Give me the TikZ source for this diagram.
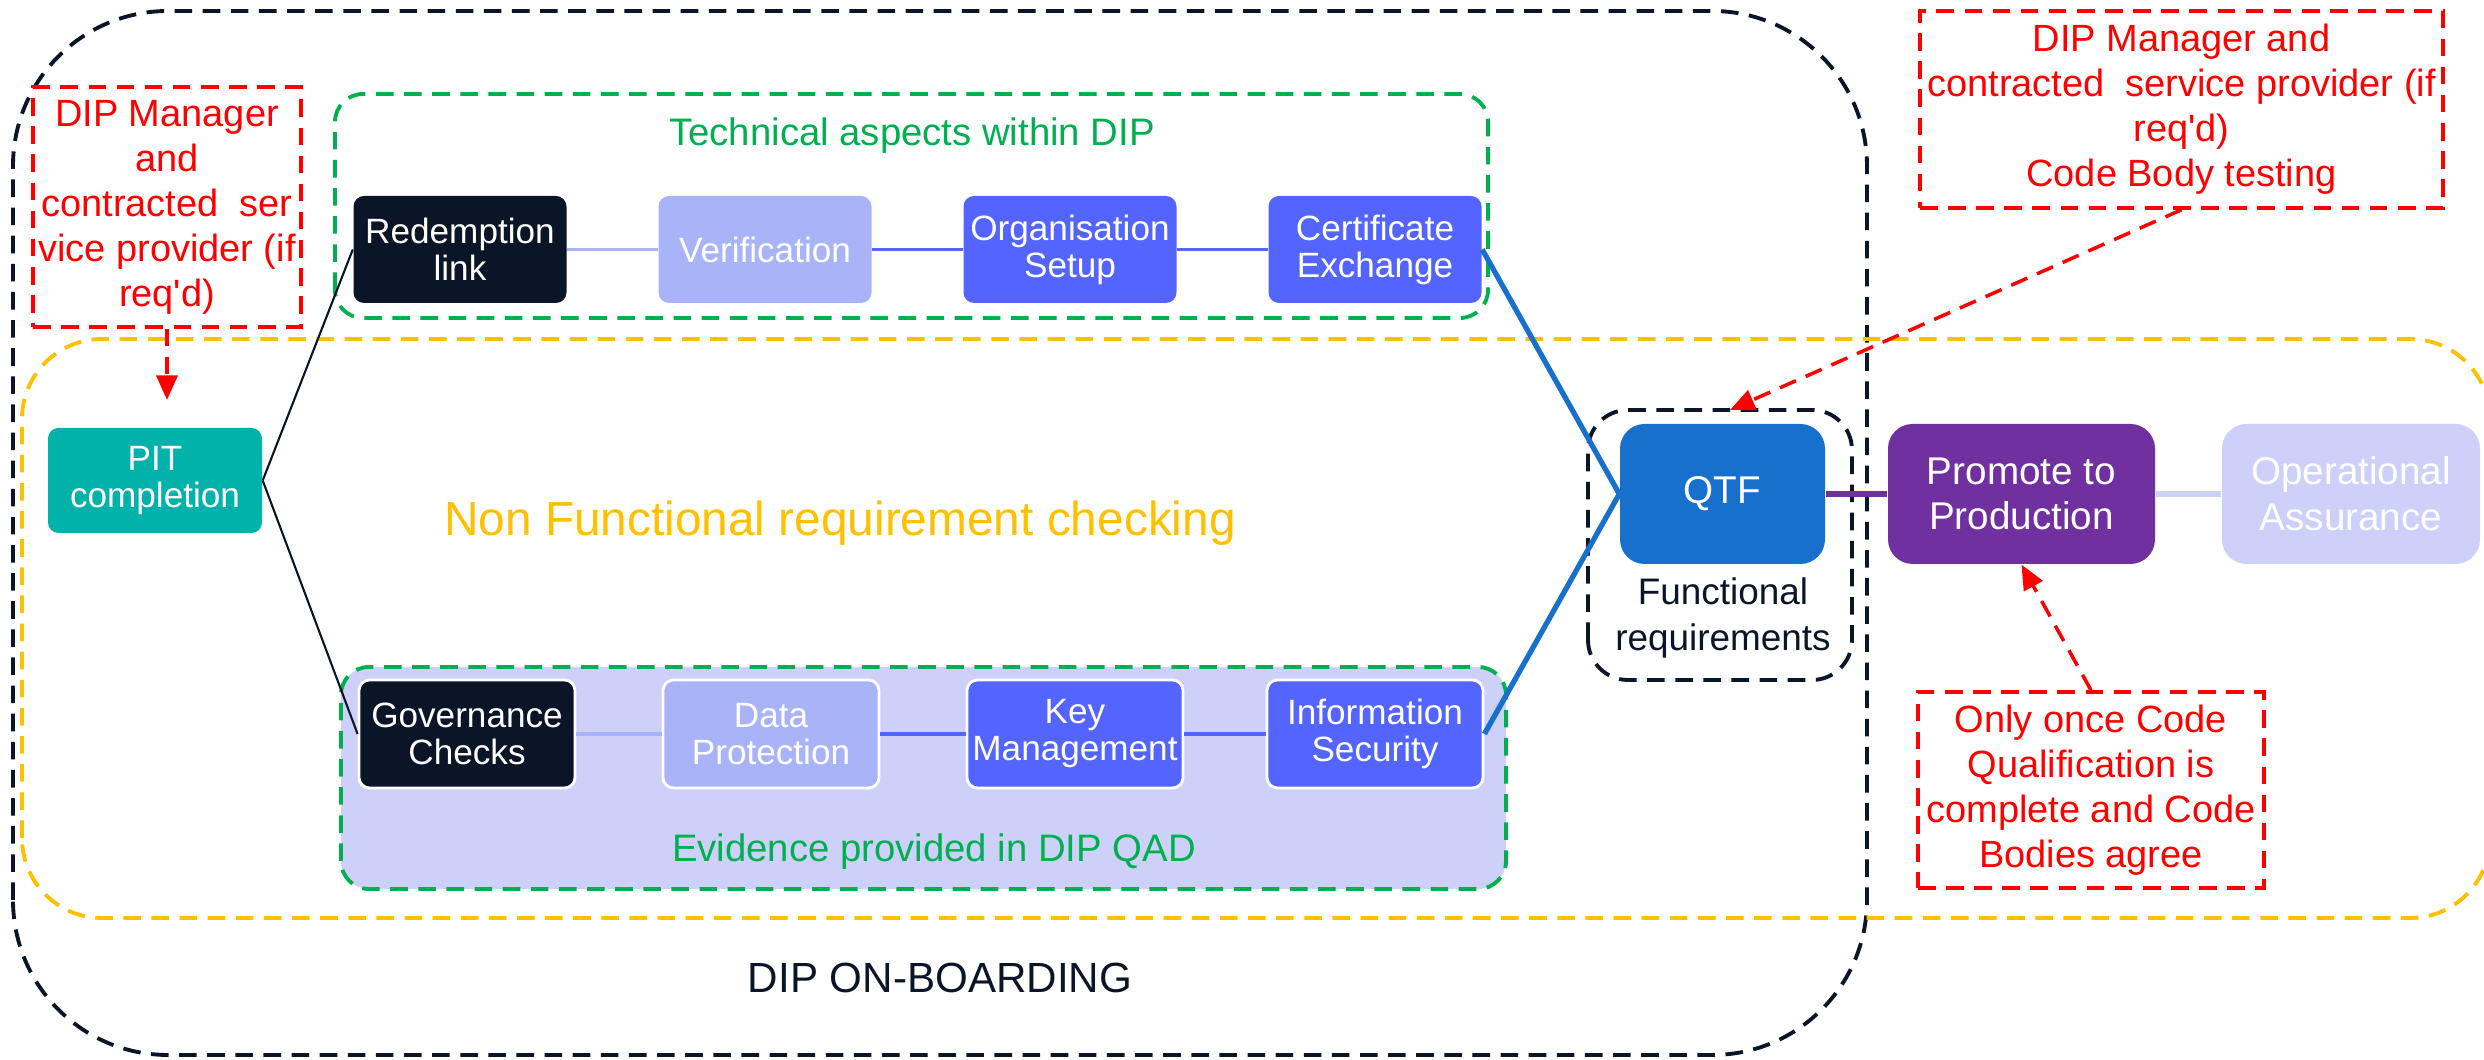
\documentclass[tikz,border=0pt]{standalone}
\usepackage{fontspec}
\setmainfont{Liberation Sans}
\usetikzlibrary{arrows.meta}

\definecolor{navy}{HTML}{0A1628}
\definecolor{lilac}{HTML}{A9B3F8}
\definecolor{royal}{HTML}{5364FF}
\definecolor{pitteal}{HTML}{00B2A9}
\definecolor{qtfblue}{HTML}{1870CD}
\definecolor{prodpurple}{HTML}{7030A0}
\definecolor{mist}{HTML}{CDD1FA}
\definecolor{leaf}{HTML}{00B050}
\definecolor{amber}{HTML}{FFC000}

\begin{document}
\begin{tikzpicture}[font=\fontsize{10}{10.5}\selectfont,
  frame/.style={line width=1.1pt, dash pattern=on 5pt off 3pt},
  stage/.style={rounded corners=3pt, minimum width=2.13cm, minimum height=1.07cm, align=center, text=white, inner sep=1pt},
  evid/.style={stage, draw=white, line width=0.8pt, minimum width=2.16cm, minimum height=1.08cm},
  bigstage/.style={rounded corners=7pt, minimum height=1.40cm, align=center, text=white, inner sep=1pt, font=\fontsize{11}{13}\selectfont},
  note/.style={draw=red, line width=1pt, dash pattern=on 5pt off 3pt, text=red, align=center, inner sep=1pt, font=\fontsize{10.8}{12.8}\selectfont},
  hint/.style={red, line width=1pt, dash pattern=on 5pt off 3pt, -{Triangle[length=7pt,width=6pt]}},
  link/.style={line width=0.9pt}]
\useasboundingbox (0,0) rectangle (24.84,10.60);

\draw[frame, navy, rounded corners=1.55cm] (0.13,0.05) rectangle (18.67,10.49);
\draw[frame, amber, rounded corners=0.8cm] (0.22,1.42) rectangle (24.90,7.21);
\draw[frame, leaf, rounded corners=0.28cm] (3.35,7.42) rectangle (14.88,9.66);
\fill[mist, rounded corners=0.28cm] (3.41,1.71) rectangle (15.06,3.93);
\draw[frame, leaf, rounded corners=0.28cm] (3.41,1.71) rectangle (15.06,3.93);
\draw[frame, navy, rounded corners=0.4cm] (15.88,3.80) rectangle (18.52,6.50);

\node[leaf, font=\fontsize{10.9}{12}\selectfont] (techtitle) at (9.12,9.24) {Technical aspects within DIP};
\node[leaf, font=\fontsize{10.9}{12}\selectfont] (evidtitle) at (9.34,2.08) {Evidence provided in DIP QAD};
\node[amber, font=\fontsize{13.6}{15}\selectfont] (nfrtitle) at (8.40,5.37) {Non Functional requirement checking};
\node[navy, font=\fontsize{12}{14}\selectfont] (onboard) at (9.40,0.82) {DIP ON-BOARDING};
\node[navy, align=center, font=\fontsize{10.5}{13}\selectfont] (functext) at (17.23,4.42) {Functional\\requirements};

\node[stage, fill=navy] (redeem) at (4.60,8.105) {Redemption\\link};
\node[stage, fill=lilac] (verif) at (7.65,8.105) {Verification};
\node[stage, fill=royal] (orgset) at (10.70,8.105) {Organisation\\Setup};
\node[stage, fill=royal] (cert) at (13.75,8.105) {Certificate\\Exchange};

\node[evid, fill=navy] (gov) at (4.67,3.26) {Governance\\Checks};
\node[evid, fill=lilac] (datap) at (7.71,3.26) {Data\\Protection};
\node[evid, fill=royal] (keym) at (10.75,3.26) {Key\\Management};
\node[evid, fill=royal] (infosec) at (13.75,3.26) {Information\\Security};

\node[stage, fill=pitteal, minimum width=2.14cm, minimum height=1.05cm] (pit) at (1.55,5.795) {PIT\\completion};
\node[bigstage, fill=qtfblue, minimum width=2.05cm] (qtf) at (17.225,5.66) {QTF};
\node[bigstage, fill=prodpurple, minimum width=2.67cm] (promote) at (20.215,5.66) {Promote to\\Production};
\node[bigstage, fill=mist, minimum width=2.58cm] (opassur) at (23.51,5.66) {Operational\\Assurance};

\node[note, minimum width=2.68cm, minimum height=2.40cm] (notepit) at (1.67,8.53) {DIP Manager\\and\\contracted~ ser\\vice provider (if\\req\textquotesingle d)};
\node[note, minimum width=5.23cm, minimum height=1.97cm] (notecode) at (21.815,9.505) {DIP Manager and\\contracted~ service provider (if\\req\textquotesingle d)\\Code Body testing};
\node[note, minimum width=3.46cm, minimum height=1.96cm] (noteprod) at (20.91,2.70) {Only once Code\\Qualification is\\complete and Code\\Bodies agree};
\coordinate (pittop) at (1.67,6.60);
\coordinate (functop) at (17.30,6.50);

\draw[link, lilac] (redeem) -- (verif);
\draw[link, royal] (verif) -- (orgset);
\draw[link, royal] (orgset) -- (cert);
\draw[link, lilac] (gov) -- (datap);
\draw[link, royal] (datap) -- (keym);
\draw[link, royal] (keym) -- (infosec);
\draw[line width=0.6pt, navy] (pit.east) -- (redeem.west);
\draw[line width=0.6pt, navy] (pit.east) -- (gov.west);
\draw[line width=1.5pt, qtfblue] (cert.east) -- (qtf.west);
\draw[line width=1.5pt, qtfblue] (infosec.east) -- (qtf.west);
\draw[line width=1.5pt, prodpurple] (qtf) -- (promote);
\draw[line width=1.5pt, mist] (promote) -- (opassur);

\draw[hint] (notepit.south) -- (pittop);
\draw[hint] (notecode.south) -- (functop);
\draw[hint] (noteprod.north) -- (promote.south);
\end{tikzpicture}
\end{document}
